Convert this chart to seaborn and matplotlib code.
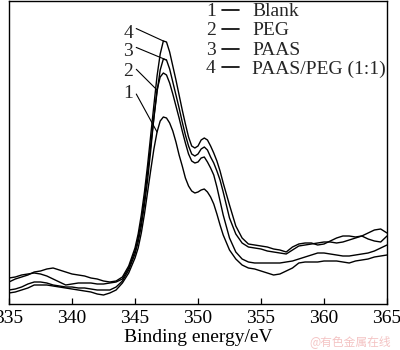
import numpy as np
import pandas as pd
import matplotlib
matplotlib.use("Agg")
import matplotlib.pyplot as plt
from matplotlib.lines import Line2D
import seaborn as sns

# ---------------- data ----------------
energy = [335, 335.5, 336, 336.5, 337, 337.5, 338, 338.5, 339, 339.5,
          340, 340.5, 341, 341.5, 342, 342.5, 343, 343.5, 344, 344.5, 345,
          345.25, 345.5, 345.75, 346, 346.25, 346.5, 346.75, 347, 347.25,
          347.5, 347.75, 348, 348.25, 348.5, 348.75, 349, 349.25, 349.5,
          349.75, 350, 350.25, 350.5, 350.75, 351, 351.25, 351.5, 351.75, 352,
          352.5, 353, 353.5, 354, 354.5, 355, 355.5, 356, 356.5, 357, 357.5,
          358, 358.5, 359, 359.5, 360, 360.5, 361, 361.5, 362, 362.5, 363,
          363.5, 364, 364.5, 365]

blank = [11, 12, 14, 16, 19, 19, 19, 18, 17, 16,
         15, 14, 13, 12, 10, 9, 11, 14, 21, 31, 46,
         56, 71, 90, 112, 134, 155, 172, 183, 187,
         186, 181, 173, 162, 149, 138, 126, 118, 113,
         111, 112, 114, 115, 112, 107, 100, 90, 79, 69,
         54, 45, 39, 36, 35, 33, 31, 29, 30, 33, 36,
         41, 42, 42, 42, 43, 43, 43, 42, 41, 43, 44,
         45, 47, 48, 49]

peg = [14, 15, 17, 20, 22, 22, 21, 19, 18, 17,
       17, 16, 16, 15, 14, 14, 14, 17, 23, 34, 50,
       62, 78, 99, 124, 154, 187, 214, 227, 231,
       229, 221, 210, 198, 186, 173, 161, 150, 143,
       141, 142, 146, 147, 142, 136, 129, 117, 103, 89,
       66, 52, 45, 42, 41, 41, 41, 41, 41, 42, 43,
       45, 47, 49, 51, 51, 50, 49, 48, 48, 49, 50,
       51, 53, 56, 59]

paas = [26, 27, 29, 30, 31, 30, 28, 25, 22, 19,
        20, 21, 21, 21, 20, 20, 21, 22, 25, 36, 53,
        66, 83, 105, 132, 159, 186, 212, 234, 245,
        244, 235, 222, 209, 196, 182, 169, 158, 150,
        148, 150, 155, 157, 154, 147, 141, 133, 124, 112,
        86, 70, 61, 57, 56, 55, 53, 52, 51, 50, 54,
        58, 59, 60, 61, 62, 62, 61, 62, 64, 66, 68,
        65, 63, 62, 68]

paas_peg = [22, 25, 27, 29, 32, 33, 35, 36, 34, 32,
            30, 29, 28, 26, 25, 23, 22, 23, 27, 38, 56,
            70, 89, 112, 139, 169, 199, 228, 250, 263,
            262, 252, 238, 224, 209, 194, 180, 167, 158,
            156, 158, 164, 166, 164, 158, 151, 143, 133, 121,
            99, 78, 66, 60, 59, 58, 57, 55, 54, 52, 57,
            60, 61, 61, 59, 60, 63, 66, 68, 68, 67, 68,
            71, 74, 75, 71]

series_ids = ["1", "2", "3", "4"]
series_names = ["Blank", "PEG", "PAAS", "PAAS/PEG (1:1)"]
series_values = [blank, peg, paas, paas_peg]
# energy at which each curve's callout leader touches it
leader_energy = [346.75, 346.75, 347.5, 347.25]

x_ticks = [335, 340, 345, 350, 355, 360, 365]
x_label = "Binding energy/eV"
watermark = "@有色金属在线"

# ---------------- style ----------------
sns.set_style("white")
plt.rcParams['font.family'] = ['Liberation Serif', 'DejaVu Serif']
plt.rcParams['mathtext.fontset'] = 'stix'

fig = plt.figure(figsize=(4.0, 3.5), dpi=100)
ax = fig.add_axes([9 / 400, 46 / 350, 378 / 400, 303 / 350])

df = pd.DataFrame({"energy": energy * 4,
                   "intensity": sum(series_values, []),
                   "sample": sum([[n] * len(energy) for n in series_names], [])})
for name in series_names:
    sns.lineplot(data=df[df["sample"] == name], x="energy", y="intensity",
                 color="black", lw=1.0, ax=ax, legend=False)

ax.set_xlim(335, 365)
ax.set_ylim(0, 303)
ax.set_xticks(x_ticks)
ax.set_xticklabels([str(t) for t in x_ticks])
ax.set_yticks([])
ax.tick_params(axis='x', direction='in', length=4, width=0.9, pad=4,
               labelsize=14, colors='black', bottom=True, top=False)
ax.set_xlabel(x_label, fontsize=14, labelpad=2, color='black')
ax.set_ylabel("")
for s in ax.spines.values():
    s.set_color('black')
    s.set_linewidth(1.0)

# callout numbers with leader lines
label_text_y = [210, 232, 252, 271]
for sid, vals, le, ty in zip(series_ids, series_values, leader_energy, label_text_y):
    i = energy.index(le)
    ax.annotate(sid, xy=(energy[i], vals[i]), xytext=(344.45, ty),
                textcoords='data', ha='center', va='center', fontsize=14,
                arrowprops=dict(arrowstyle='-', lw=0.8, color='black',
                                shrinkA=0, shrinkB=0, relpos=(1.0, 0.85)))

# key (number — line — name)
row_y = [0.964, 0.901, 0.838, 0.776]
for sid, name, yy in zip(series_ids, series_names, row_y):
    ax.text(0.534, yy, sid, transform=ax.transAxes, ha='center', va='center',
            fontsize=14)
    ax.add_line(Line2D([0.563, 0.608], [yy + 0.005, yy + 0.005],
                       transform=ax.transAxes, color='black', lw=1.2))
    ax.text(0.643, yy, name, transform=ax.transAxes, ha='left', va='center',
            fontsize=14)

fig.text(350 / 400, 1 - 342 / 350, watermark, ha='center', va='center',
         fontsize=8.5, color='#f4c4c4',
         family=['Noto Sans CJK SC', 'DejaVu Sans'])

fig.savefig("out.png", dpi=100)
